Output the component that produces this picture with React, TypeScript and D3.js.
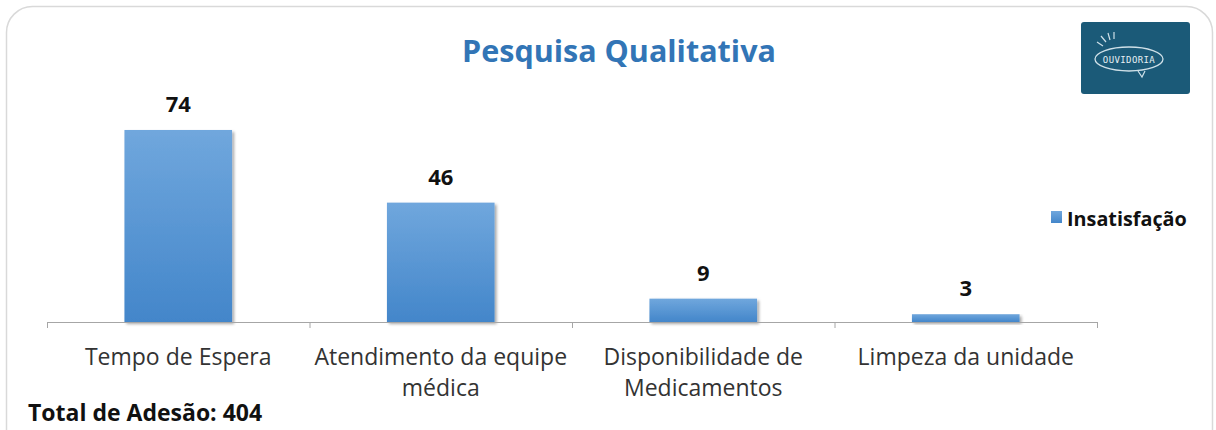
import React from "react";
import * as d3 from "d3";

const categories: string[][] = [
  ["Tempo de Espera"],
  ["Atendimento da equipe", "médica"],
  ["Disponibilidade de", "Medicamentos"],
  ["Limpeza da unidade"],
];
const values: number[] = [74, 46, 9, 3];
const seriesName = "Insatisfação";
const title = "Pesquisa Qualitativa";
const footer = "Total de Adesão: 404";

const W = 1216;
const H = 430;
const FONT = "'Open Sans', sans-serif";

export default function App() {
  const x = d3
    .scaleBand<number>()
    .domain(values.map((_, i) => i))
    .range([47, 1097])
    .paddingInner(0.59)
    .paddingOuter(0.295);
  const y = d3.scaleLinear().domain([0, 80]).range([322, 114.4]);
  const step = x.step();
  const ticks = d3.range(values.length + 1).map((i) => 47 + i * step);

  return (
    <svg
      width={W}
      height={H}
      style={{ position: "absolute", left: 0, top: 0, background: "#fff" }}
    >
      <defs>
        <linearGradient id="barGrad" x1="0" y1="0" x2="0" y2="1">
          <stop offset="0" stopColor="#70a7dd" />
          <stop offset="1" stopColor="#4386ca" />
        </linearGradient>
        <filter id="shadow" x="-10%" y="-10%" width="130%" height="140%">
          <feGaussianBlur in="SourceAlpha" stdDeviation="1.6" />
          <feOffset dx="1.5" dy="1.5" result="b" />
          <feComponentTransfer>
            <feFuncA type="linear" slope="0.35" />
          </feComponentTransfer>
          <feMerge>
            <feMergeNode />
            <feMergeNode in="SourceGraphic" />
          </feMerge>
        </filter>
      </defs>
      <rect
        x={6.5}
        y={6.5}
        width={1206}
        height={460}
        rx={26}
        fill="#fff"
        stroke="#d9d9d9"
        strokeWidth={1.5}
      />
      <text
        x={619}
        y={62}
        textAnchor="middle"
        fontFamily={FONT}
        fontWeight={700}
        fontSize={30.5}
        fill="#3275b6"
      >
        {title}
      </text>

      {/* logo */}
      <g>
        <rect x={1081} y={22} width={109} height={72} rx={3} fill="#1b5a78" />
        <ellipse cx={1129} cy={59} rx={34} ry={12} fill="none" stroke="#cfe0e8" strokeWidth={1.3} />
        <path d="M1138,71 L1142,77 L1145,71" fill="none" stroke="#cfe0e8" strokeWidth={1.2} />
        <path d="M1097,42 L1103,46 M1101,36 L1106,42 M1108,33 L1110,40 M1114,32 L1114,39" stroke="#cfe0e8" strokeWidth={1.2} />
        <text x={1129} y={62.5} textAnchor="middle" fontFamily="'DejaVu Sans Mono', monospace" fontSize={9} fill="#e6eff3" letterSpacing={0.4}>
          OUVIDORIA
        </text>
      </g>

      {/* bars */}
      {values.map((v, i) => (
        <rect
          key={i}
          x={x(i)}
          y={y(v)}
          width={x.bandwidth()}
          height={y(0) - y(v)}
          fill="url(#barGrad)"
          filter="url(#shadow)"
        />
      ))}
      {/* axis */}
      <line x1={47} x2={1097} y1={322.5} y2={322.5} stroke="#a6a6a6" strokeWidth={1} />
      {ticks.map((t, i) => (
        <line key={i} x1={t + 0.5} x2={t + 0.5} y1={322} y2={328} stroke="#a6a6a6" strokeWidth={1} />
      ))}
      {/* value labels */}
      {values.map((v, i) => (
        <text
          key={i}
          x={(x(i) as number) + x.bandwidth() / 2}
          y={y(v) - 18}
          textAnchor="middle"
          fontFamily={FONT}
          fontWeight={700}
          fontSize={22}
          fill="#111"
        >
          {v}
        </text>
      ))}
      {/* category labels */}
      {categories.map((lines, i) => (
        <text
          key={i}
          textAnchor="middle"
          fontFamily={FONT}
          fontSize={23}
          fill="#333"
        >
          {lines.map((l, j) => (
            <tspan key={j} x={(x(i) as number) + x.bandwidth() / 2} y={365 + j * 31}>
              {l}
            </tspan>
          ))}
        </text>
      ))}
      {/* legend */}
      <rect x={1051} y={211} width={11} height={12} fill="url(#barGrad)" />
      <text x={1067} y={226} fontFamily={FONT} fontWeight={700} fontSize={19.8} fill="#111">
        {seriesName}
      </text>
      {/* footer */}
      <text x={28} y={421} fontFamily={FONT} fontWeight={700} fontSize={23} fill="#111">
        {footer}
      </text>
    </svg>
  );
}
